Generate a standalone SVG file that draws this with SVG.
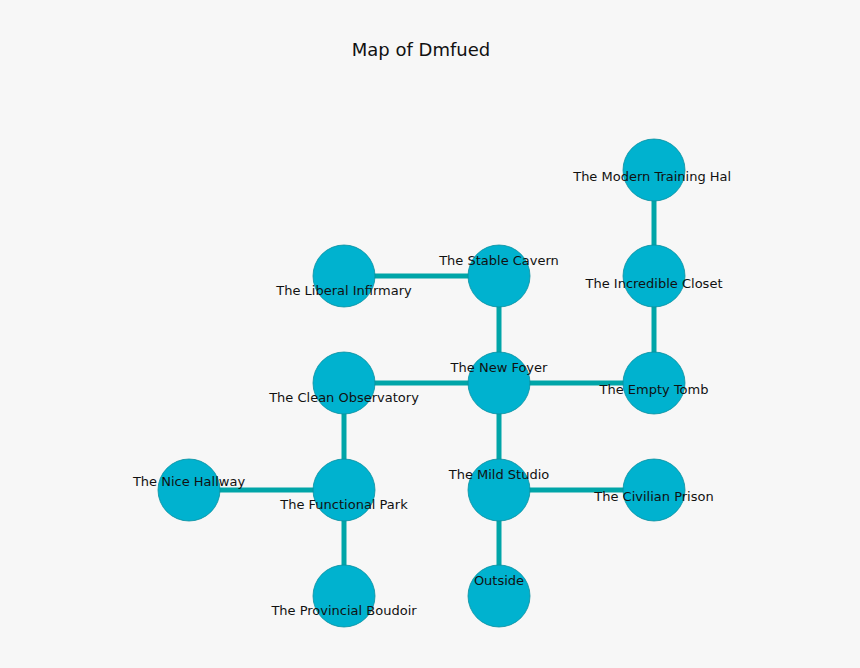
<svg xmlns="http://www.w3.org/2000/svg" width="860" height="668" viewBox="0 0 860 668">
<style>
.n{fill:#00b2cf;stroke:#0a8fa0;stroke-width:0.8}
.t{font-family:"DejaVu Sans",sans-serif;font-size:13px;fill:#111;text-anchor:middle}
.e line{stroke:#00a5a8;stroke-width:5}
</style>
<defs><clipPath id="c"><rect x="0" y="0" width="731" height="668"/></clipPath></defs>
<rect width="860" height="668" fill="#f7f7f7"/>
<text x="421" y="56" style="font-family:'DejaVu Sans',sans-serif;font-size:18px;fill:#111;text-anchor:middle">Map of Dmfued</text>
<g id="edges" class="e">
<line x1="654" y1="170" x2="654" y2="276"/>
<line x1="654" y1="276" x2="654" y2="383"/>
<line x1="344" y1="276" x2="499" y2="276"/>
<line x1="499" y1="276" x2="499" y2="383"/>
<line x1="344" y1="383" x2="499" y2="383"/>
<line x1="499" y1="383" x2="654" y2="383"/>
<line x1="499" y1="383" x2="499" y2="490"/>
<line x1="344" y1="383" x2="344" y2="490"/>
<line x1="189" y1="490" x2="344" y2="490"/>
<line x1="344" y1="490" x2="344" y2="596"/>
<line x1="499" y1="490" x2="654" y2="490"/>
<line x1="499" y1="490" x2="499" y2="596"/>
</g>
<g id="modern" clip-path="url(#c)"><circle class="n" cx="654" cy="170" r="31"/><text class="t" x="654" y="181">The Modern Training Hall</text></g>
<g id="incredible"><circle class="n" cx="654" cy="276" r="31"/><text class="t" x="654" y="288">The Incredible Closet</text></g>
<g id="empty"><circle class="n" cx="654" cy="383" r="31"/><text class="t" x="654" y="394">The Empty Tomb</text></g>
<g id="stable"><circle class="n" cx="499" cy="276" r="31"/><text class="t" x="499" y="265">The Stable Cavern</text></g>
<g id="liberal"><circle class="n" cx="344" cy="276" r="31"/><text class="t" x="344" y="295">The Liberal Infirmary</text></g>
<g id="foyer"><circle class="n" cx="499" cy="383" r="31"/><text class="t" x="499" y="372">The New Foyer</text></g>
<g id="clean"><circle class="n" cx="344" cy="383" r="31"/><text class="t" x="344" y="402">The Clean Observatory</text></g>
<g id="nice"><circle class="n" cx="189" cy="490" r="31"/><text class="t" x="189" y="486">The Nice Hallway</text></g>
<g id="functional"><circle class="n" cx="344" cy="490" r="31"/><text class="t" x="344" y="509">The Functional Park</text></g>
<g id="mild"><circle class="n" cx="499" cy="490" r="31"/><text class="t" x="499" y="479">The Mild Studio</text></g>
<g id="civilian"><circle class="n" cx="654" cy="490" r="31"/><text class="t" x="654" y="501">The Civilian Prison</text></g>
<g id="boudoir"><circle class="n" cx="344" cy="596" r="31"/><text class="t" x="344" y="615">The Provincial Boudoir</text></g>
<g id="outside"><circle class="n" cx="499" cy="596" r="31"/><text class="t" x="499" y="585">Outside</text></g>
</svg>
